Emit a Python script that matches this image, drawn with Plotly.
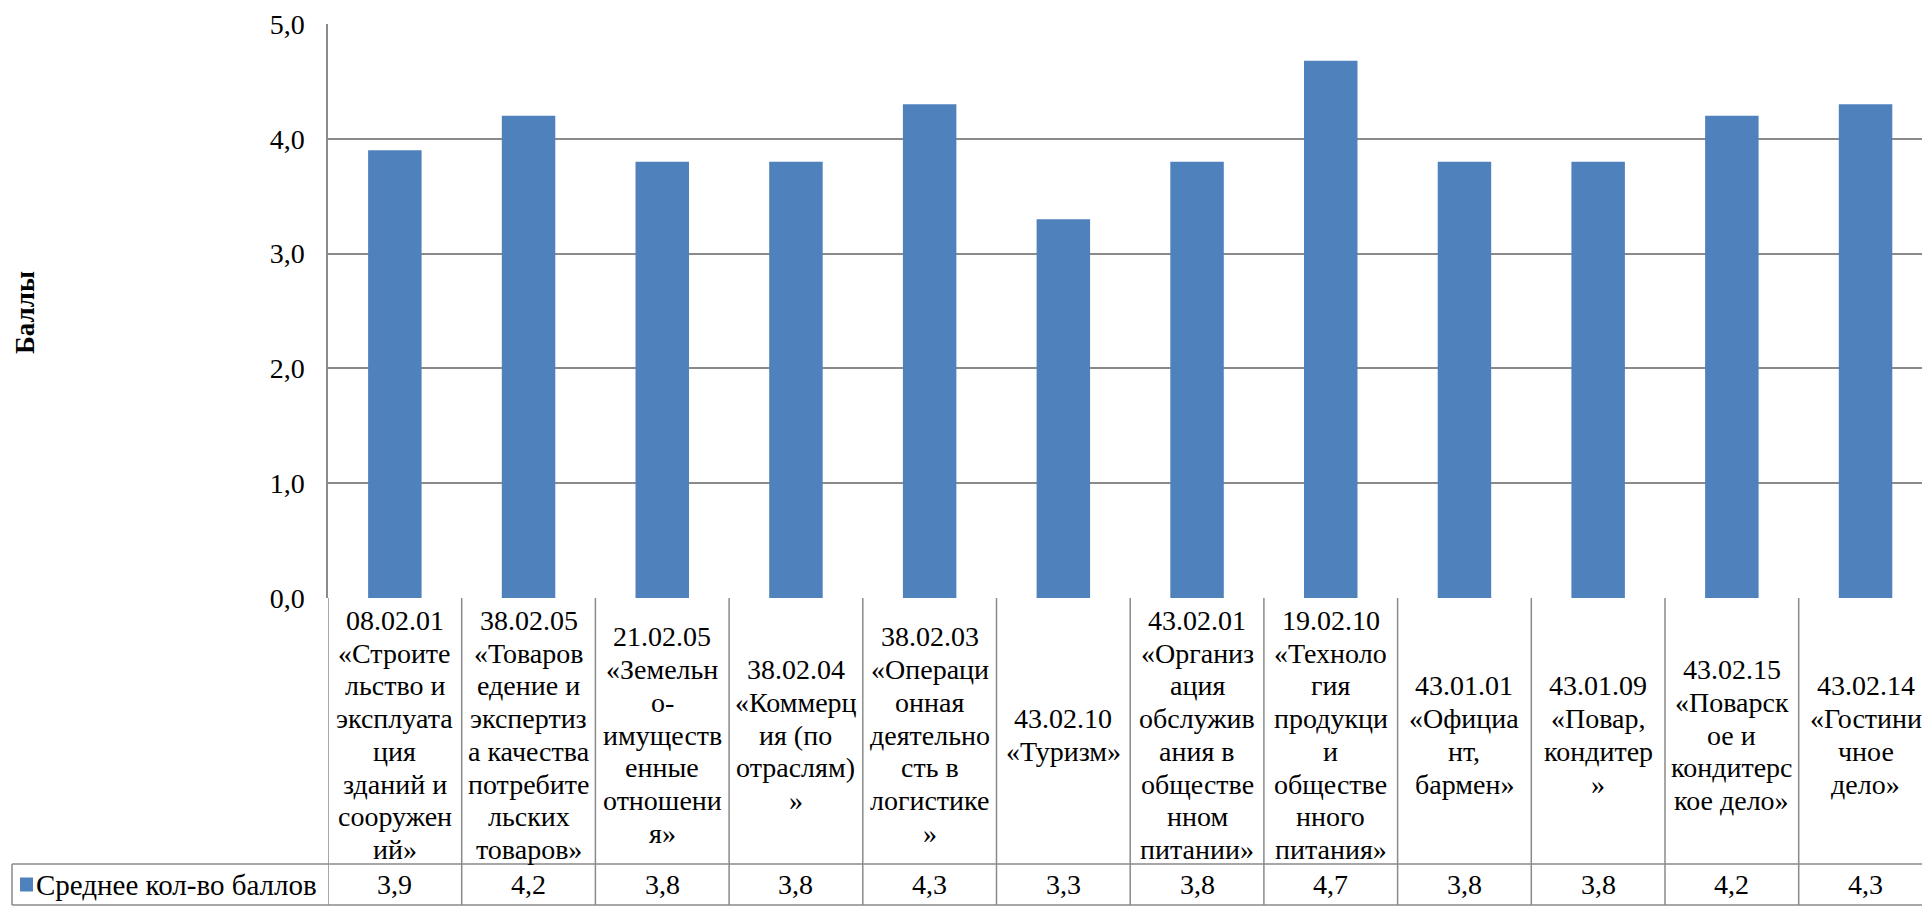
import plotly.graph_objects as go

# ---------------- data ----------------
categories = [
    "08.02.01 «Строительство и эксплуатация зданий и сооружений»",
    "38.02.05 «Товароведение и экспертиза качества потребительских товаров»",
    "21.02.05 «Земельно-имущественные отношения»",
    "38.02.04 «Коммерция (по отраслям)»",
    "38.02.03 «Операционная деятельность в логистике»",
    "43.02.10 «Туризм»",
    "43.02.01 «Организация обслуживания в общественном питании»",
    "19.02.10 «Технология продукции общественного питания»",
    "43.01.01 «Официант, бармен»",
    "43.01.09 «Повар, кондитер»",
    "43.02.15 «Поварское и кондитерское дело»",
    "43.02.14 «Гостиничное дело»",
]
label_lines = [
    ["08.02.01", "«Строите", "льство и", "эксплуата", "ция", "зданий и", "сооружен", "ий»"],
    ["38.02.05", "«Товаров", "едение и", "экспертиз", "а качества", "потребите", "льских", "товаров»"],
    ["21.02.05", "«Земельн", "о-", "имуществ", "енные", "отношени", "я»"],
    ["38.02.04", "«Коммерц", "ия (по", "отраслям)", "»"],
    ["38.02.03", "«Операци", "онная", "деятельно", "сть в", "логистике", "»"],
    ["43.02.10", "«Туризм»"],
    ["43.02.01", "«Организ", "ация", "обслужив", "ания в", "обществе", "нном", "питании»"],
    ["19.02.10", "«Техноло", "гия", "продукци", "и", "обществе", "нного", "питания»"],
    ["43.01.01", "«Официа", "нт,", "бармен»"],
    ["43.01.09", "«Повар,", "кондитер", "»"],
    ["43.02.15", "«Поварск", "ое и", "кондитерс", "кое дело»"],
    ["43.02.14", "«Гостини", "чное", "дело»"],
]
values = [3.9, 4.2, 3.8, 3.8, 4.3, 3.3, 3.8, 4.68, 3.8, 3.8, 4.2, 4.3]
series_name = "Среднее кол-во баллов"
axis_title = "Баллы"
y_ticks = [0, 1, 2, 3, 4, 5]

# ---------------- layout geometry (figure pixels) ----------------
W, H = 1922, 904
L, T, ZERO, R = 320, 16, 590, 1922
ROW1_BOTTOM, ROW2_BOTTOM = 856, 897
LEGEND_LEFT = 4
plot_w = R - L
plot_h = ZERO - T
cat_px = 133.7

FONT = 'Liberation Serif, "Times New Roman", Times, serif'
FS = 28
GRID = "#8a8a8a"
BAR = "#4F81BD"


def px(xp):
    return (xp - L) / plot_w


def py(yp):
    return (ZERO - yp) / plot_h


n = len(values)
x_idx = list(range(n))
x_max = -0.5 + plot_w / cat_px

fig = go.Figure()
fig.add_trace(go.Bar(
    x=x_idx, y=values, name=series_name, width=0.4,
    marker=dict(color=BAR, line=dict(width=0)),
    hoverinfo="skip",
))

shapes = []
annotations = []

# table vertical lines
for k in range(n + 1):
    shapes.append(dict(type="line", xref="x", yref="paper",
                       x0=k - 0.5, x1=k - 0.5, y0=py(ZERO), y1=py(ROW2_BOTTOM),
                       line=dict(color=GRID, width=1.5)))
# legend cell left border
shapes.append(dict(type="line", xref="paper", yref="paper",
                   x0=px(LEGEND_LEFT), x1=px(LEGEND_LEFT), y0=py(ROW1_BOTTOM), y1=py(ROW2_BOTTOM),
                   line=dict(color=GRID, width=1.5)))
# table horizontal lines
for yy in (ROW1_BOTTOM, ROW2_BOTTOM):
    shapes.append(dict(type="line", xref="paper", yref="paper",
                       x0=px(LEGEND_LEFT), x1=1, y0=py(yy), y1=py(yy),
                       line=dict(color=GRID, width=1.5)))
# legend square
row2_mid = (ROW1_BOTTOM + ROW2_BOTTOM) / 2
shapes.append(dict(type="rect", xref="paper", yref="paper",
                   x0=px(12), x1=px(25), y0=py(row2_mid - 7), y1=py(row2_mid + 7),
                   fillcolor=BAR, line=dict(width=0)))

# category labels, line by line
line_h = 32.7
cell_mid = (ZERO + ROW1_BOTTOM) / 2 + 4
for i, lines in enumerate(label_lines):
    m = len(lines)
    for j, t in enumerate(lines):
        yc = cell_mid + (j - (m - 1) / 2) * line_h
        annotations.append(dict(xref="x", yref="paper", x=i, y=py(yc), text=t,
                                showarrow=False, xanchor="center", yanchor="middle",
                                font=dict(family=FONT, size=FS, color="black")))

# values row
for i, v in enumerate(values):
    annotations.append(dict(xref="x", yref="paper", x=i, y=py(row2_mid),
                            text=f"{v:.1f}".replace(".", ","),
                            showarrow=False, xanchor="center", yanchor="middle",
                            font=dict(family=FONT, size=FS, color="black")))

# legend text
annotations.append(dict(xref="paper", yref="paper", x=px(26), y=py(row2_mid), text=series_name,
                        showarrow=False, xanchor="left", yanchor="middle",
                        font=dict(family=FONT, size=29, color="black")))

# y axis title
annotations.append(dict(xref="paper", yref="paper", x=px(17), y=py(305), text="<b>" + axis_title + "</b>",
                        showarrow=False, xanchor="center", yanchor="middle", textangle=-90,
                        font=dict(family=FONT, size=27, color="black")))

fig.update_layout(
    width=W, height=H,
    margin=dict(l=L, r=W - R, t=T, b=H - ZERO, pad=0),
    paper_bgcolor="white", plot_bgcolor="white",
    separators=", ",
    showlegend=False,
    shapes=shapes,
    annotations=annotations,
    font=dict(family=FONT, size=FS, color="black"),
    xaxis=dict(range=[-0.5, x_max], showticklabels=False, showgrid=False,
               zeroline=False, showline=False, ticks="", fixedrange=True),
    yaxis=dict(range=[0, 5], tickvals=y_ticks, tickformat=".1f",
               showgrid=True, gridcolor=GRID, gridwidth=1.5,
               zeroline=False, showline=True, linecolor=GRID, linewidth=1.5,
               ticks="outside", ticklen=16, tickcolor="rgba(255,255,255,0)",
               tickfont=dict(family=FONT, size=FS, color="black"), fixedrange=True),
)

fig.write_html("out.html", config={"displayModeBar": False})
